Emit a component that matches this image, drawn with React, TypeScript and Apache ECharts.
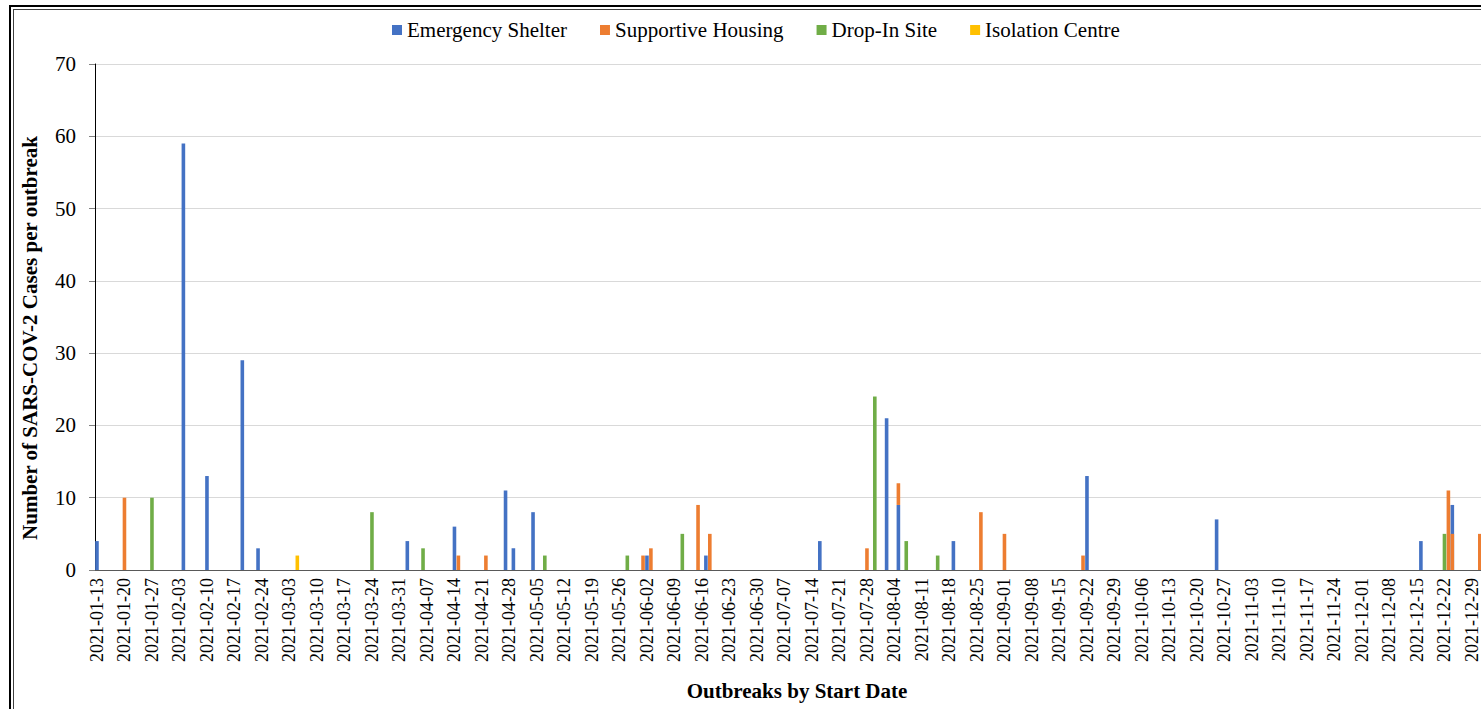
import React, { useEffect, useRef } from "react";
import * as echarts from "echarts";

// Axis runs one category per day
const FIRST_DAY = "2021-01-13";
const LAST_DAY = "2022-01-04";

// Outbreak start dates and case counts, one pair of arrays per setting type
const shelterDates = [
  "2021-01-13", "2021-02-04", "2021-02-10", "2021-02-19", "2021-02-23", "2021-04-02",
  "2021-04-14", "2021-04-27", "2021-04-29", "2021-05-04", "2021-06-02", "2021-06-17",
  "2021-07-16", "2021-08-02", "2021-08-05", "2021-08-19", "2021-09-22", "2021-10-25",
  "2021-12-16", "2021-12-24",
];
const shelterCases = [4, 59, 13, 29, 3, 4, 6, 11, 3, 8, 2, 2, 4, 21, 9, 4, 13, 7, 4, 9];

const housingDates = [
  "2021-01-20", "2021-04-15", "2021-04-22", "2021-06-01", "2021-06-03", "2021-06-15",
  "2021-06-18", "2021-07-28", "2021-08-05", "2021-08-26", "2021-09-01", "2021-09-21",
  "2021-12-23", "2021-12-31",
];
const housingCases = [10, 2, 2, 2, 3, 9, 5, 3, 3, 8, 5, 2, 11, 5];

// A second supportive-housing outbreak sharing its start day with a shelter one (drawn in front)
const housingSameDayDates = ["2021-12-24"];
const housingSameDayCases = [5];

const dropInDates = [
  "2021-01-27", "2021-03-24", "2021-04-06", "2021-05-07", "2021-05-28", "2021-06-11",
  "2021-07-30", "2021-08-07", "2021-08-15", "2021-12-22",
];
const dropInCases = [10, 8, 3, 2, 2, 5, 24, 4, 2, 5];

const isolationDates = ["2021-03-05"];
const isolationCases = [2];

const seriesNames = ["Emergency Shelter", "Supportive Housing", "Drop-In Site", "Isolation Centre"];
const seriesColors = ["#4472C4", "#ED7D31", "#70AD47", "#FFC000"];

const yTicks = { min: 0, max: 70, step: 10 };

const SERIF = '"Liberation Serif", "Times New Roman", serif';

function dayRange(from: string, to: string): string[] {
  const out: string[] = [];
  const d = new Date(from + "T00:00:00Z");
  const end = new Date(to + "T00:00:00Z");
  while (d.getTime() <= end.getTime()) {
    out.push(d.toISOString().slice(0, 10));
    d.setUTCDate(d.getUTCDate() + 1);
  }
  return out;
}

function onDays(days: string[], dates: string[], values: number[]): (number | null)[] {
  const out: (number | null)[] = days.map(() => null);
  dates.forEach((d, k) => {
    const i = days.indexOf(d);
    if (i >= 0) out[i] = values[k];
  });
  return out;
}

export default function App() {
  const ref = useRef<HTMLDivElement>(null);

  useEffect(() => {
    if (!ref.current) return;
    const chart = echarts.init(ref.current, undefined, { renderer: "svg" });
    const days = dayRange(FIRST_DAY, LAST_DAY);

    const bar = (name: string, data: (number | null)[], color: string, stack: string) => ({
      type: "bar",
      name,
      data,
      stack,
      barWidth: 3.6,
      barGap: "-100%",
      itemStyle: { color },
      emphasis: { disabled: true },
    });

    // double frame line along the top and left of the chart
    const frame = (x1: number, y1: number, x2: number, y2: number, color: string, w: number) => ({
      type: "line",
      silent: true,
      shape: { x1, y1, x2, y2 },
      style: { stroke: color, lineWidth: w },
    });

    chart.setOption({
      animation: false,
      backgroundColor: "#ffffff",
      textStyle: { fontFamily: SERIF },
      legend: {
        data: seriesNames,
        left: 387,
        top: 14.5,
        icon: "rect",
        itemWidth: 10,
        itemHeight: 10,
        itemGap: 33,
        textStyle: { fontFamily: SERIF, fontSize: 21, color: "#000" },
      },
      grid: { left: 95, top: 64, right: 12.5, bottom: 139 },
      xAxis: {
        type: "category",
        data: days,
        boundaryGap: true,
        axisLine: { lineStyle: { color: "#595959", width: 1 } },
        axisTick: { interval: 6, length: 6, lineStyle: { color: "#595959" } },
        axisLabel: {
          interval: 6,
          rotate: 90,
          fontSize: 18,
          fontFamily: SERIF,
          color: "#000",
          margin: 8,
          padding: [0, 0, 4, 0],
        },
        splitLine: { show: false },
      },
      yAxis: {
        type: "value",
        min: yTicks.min,
        max: yTicks.max,
        interval: yTicks.step,
        axisLine: { show: true, lineStyle: { color: "#000" } },
        axisTick: { show: true, length: 6, lineStyle: { color: "#808080" } },
        axisLabel: { fontSize: 21, fontFamily: SERIF, color: "#000", margin: 19 },
        splitLine: { lineStyle: { color: "#d9d9d9" } },
      },
      series: [
        bar(seriesNames[0], onDays(days, shelterDates, shelterCases), seriesColors[0], "main"),
        bar(seriesNames[1], onDays(days, housingDates, housingCases), seriesColors[1], "main"),
        bar(seriesNames[2], onDays(days, dropInDates, dropInCases), seriesColors[2], "main"),
        bar(seriesNames[3], onDays(days, isolationDates, isolationCases), seriesColors[3], "main"),
        bar(seriesNames[1], onDays(days, housingSameDayDates, housingSameDayCases), seriesColors[1], "sameDay"),
      ],
      graphic: [
        frame(10, 6, 1510, 6, "#000", 2),
        frame(10, 5, 10, 709, "#000", 2),
        frame(13, 9.5, 1510, 9.5, "#404040", 1),
        frame(13.5, 9, 13.5, 709, "#404040", 1),
        {
          type: "text",
          silent: true,
          x: 30,
          y: 338,
          rotation: Math.PI / 2,
          style: {
            text: "Number of SARS-COV-2 Cases per outbreak",
            font: `bold 21px ${SERIF}`,
            fill: "#000",
            align: "center",
            verticalAlign: "middle",
            textAlign: "center",
            textVerticalAlign: "middle",
          },
        },
        {
          type: "text",
          silent: true,
          x: 797,
          y: 691,
          style: {
            text: "Outbreaks by Start Date",
            font: `bold 21px ${SERIF}`,
            fill: "#000",
            align: "center",
            verticalAlign: "middle",
            textAlign: "center",
            textVerticalAlign: "middle",
          },
        },
      ],
    });

    return () => chart.dispose();
  }, []);

  return (
    <div
      style={{
        position: "absolute",
        left: 0,
        top: 0,
        width: 1481,
        height: 709,
        overflow: "hidden",
        background: "#fff",
      }}
    >
      <div ref={ref} style={{ width: 1510, height: 709 }} />
    </div>
  );
}
